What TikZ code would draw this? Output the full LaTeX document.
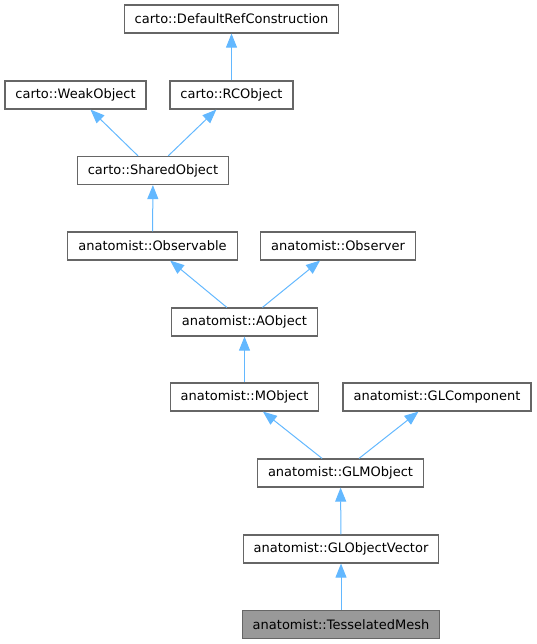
\documentclass[tikz,border=0pt]{standalone}
\usepackage{fontspec}
\setmainfont{DejaVu Sans}
\usetikzlibrary{arrows.meta}
\definecolor{edgeblue}{HTML}{63B8FF}
\definecolor{boxline}{HTML}{666666}
\definecolor{boxfill}{HTML}{999999}
\begin{document}
\begin{tikzpicture}[x=1pt, y=-1pt, thick]
	\useasboundingbox (0,0) rectangle (536,644);
	
	\tikzset{
		class/.style={draw=boxline, line width=1.2pt, rectangle, fill=white, font=\fontsize{13}{15}\selectfont, inner xsep=10.5pt, minimum height=28pt},
		current/.style={class, fill=boxfill},
		inherit/.style={draw=edgeblue, line width=1pt, -{Triangle[length=14pt, width=11pt, fill=edgeblue]}}
	}
	
	\begin{scope}[every node/.style={class}]
		\node (refcons) at (231.5,19) {carto::DefaultRefConstruction};
		\node (weak) at (75.5,95) {carto::WeakObject};
		\node (rcobj) at (231.5,95) {carto::RCObject};
		\node (shared) at (153,170.5) {carto::SharedObject};
		\node (observable) at (152.5,246) {anatomist::Observable};
		\node (observer) at (338,246) {anatomist::Observer};
		\node (aobj) at (244.5,322) {anatomist::AObject};
		\node (mobj) at (244.5,397) {anatomist::MObject};
		\node (glcomp) at (437,397) {anatomist::GLComponent};
		\node (glmobj) at (340.5,473) {anatomist::GLMObject};
		\node (glvector) at (341,549) {anatomist::GLObjectVector};
		\node [current] (mesh) at (341,624.5) {anatomist::TesselatedMesh};
	\end{scope}
	
	\foreach \child/\parent in {rcobj/refcons, shared/weak, shared/rcobj, observable/shared,
		aobj/observable, aobj/observer, mobj/aobj, glmobj/mobj, glmobj/glcomp,
		glvector/glmobj, mesh/glvector}
		\draw [inherit] (\child) -- (\parent);
	
\end{tikzpicture}
\end{document}
